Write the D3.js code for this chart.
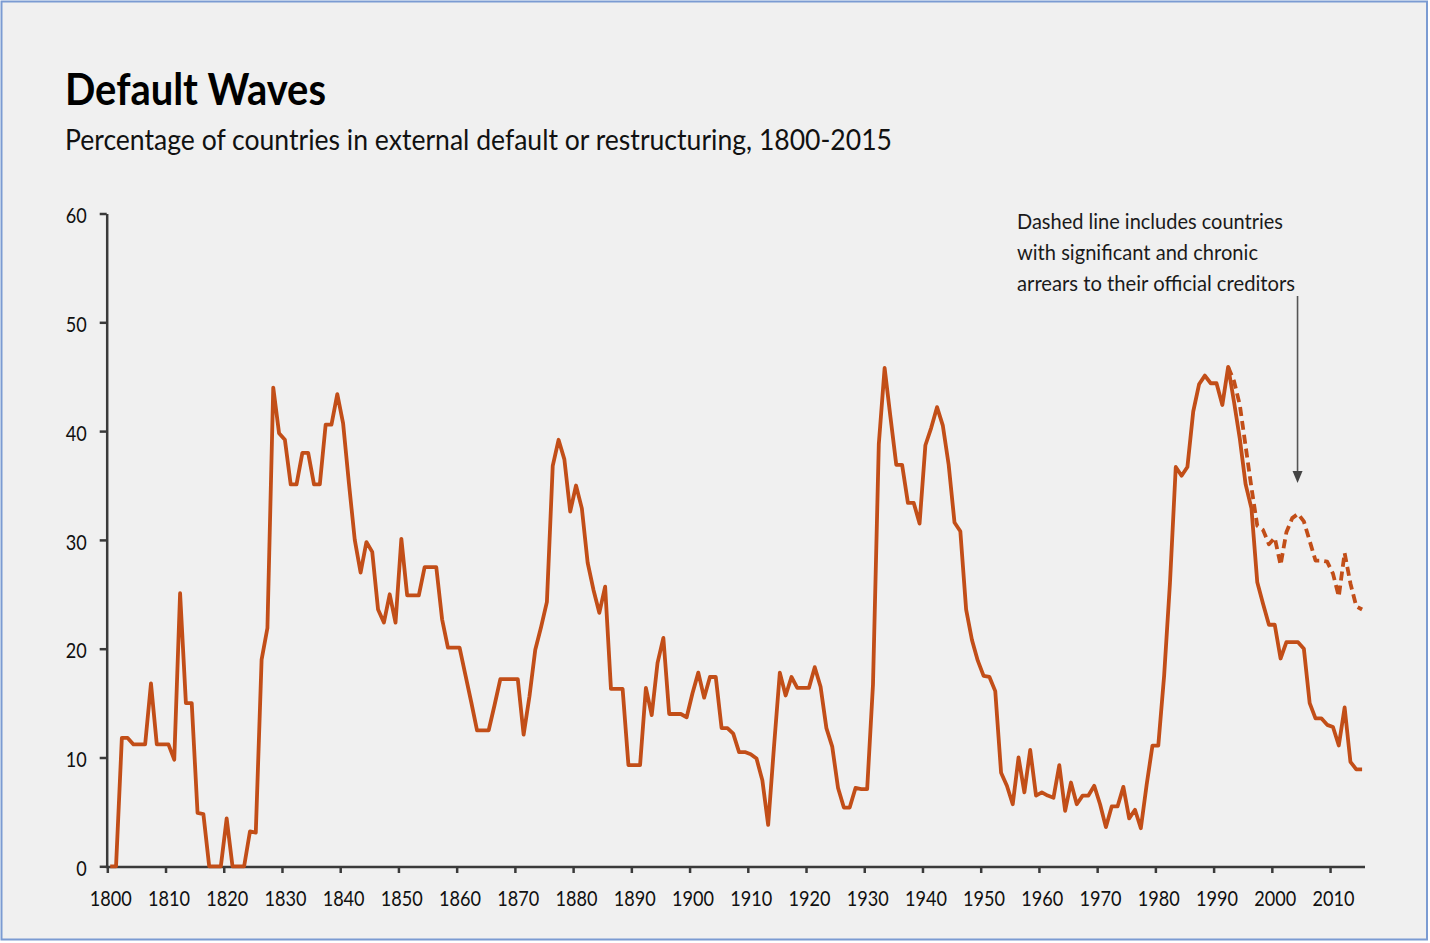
<!DOCTYPE html>
<html>
<head>
<meta charset="utf-8">
<script src="https://cdn.jsdelivr.net/npm/d3@7"></script>
<style>
  html, body { margin: 0; padding: 0; background: #ffffff; }
  svg { display: block; }
  text { font-family: Lato, "Open Sans", "Noto Sans", sans-serif; }
</style>
</head>
<body>
<svg id="chart" width="1430" height="943"></svg>
<script>
// ---------- DATA ----------
const title = "Default Waves";
const subtitle = "Percentage of countries in external default or restructuring, 1800-2015";
const noteLines = ["Dashed line includes countries", "with significant and chronic", "arrears to their official creditors"];

const startYear = 1800;
// Share of countries in external default or restructuring (%), one value per year 1800-2015
const defaultShare = [
  0, 0, 11.8, 11.8, 11.2, 11.2, 11.2, 16.8, 11.2, 11.2,          // 1800s
  11.2, 9.8, 25.1, 15.0, 15.0, 4.9, 4.8, 0, 0, 0,                // 1810s
  4.4, 0, 0, 0, 3.2, 3.1, 19.0, 21.9, 44.0, 39.8,                // 1820s
  39.2, 35.1, 35.1, 38.0, 38.0, 35.1, 35.1, 40.6, 40.6, 43.4,    // 1830s
  40.7, 35.2, 30.0, 27.0, 29.8, 28.9, 23.6, 22.4, 25.0, 22.4,    // 1840s
  30.1, 24.9, 24.9, 24.9, 27.5, 27.5, 27.5, 22.7, 20.1, 20.1,    // 1850s
  20.1, 17.6, 15.1, 12.5, 12.5, 12.5, 14.8, 17.2, 17.2, 17.2,    // 1860s
  17.2, 12.1, 15.6, 19.9, 22.0, 24.3, 36.8, 39.2, 37.4, 32.6,    // 1870s
  35.0, 32.9, 27.9, 25.4, 23.3, 25.7, 16.3, 16.3, 16.3, 9.3,     // 1880s
  9.3, 9.3, 16.4, 13.9, 18.7, 21.0, 14.0, 14.0, 14.0, 13.7,      // 1890s
  15.9, 17.8, 15.5, 17.4, 17.4, 12.7, 12.7, 12.2, 10.5, 10.5,    // 1900s
  10.3, 9.9, 7.9, 3.8, 11.0, 17.8, 15.7, 17.4, 16.4, 16.4,       // 1910s
  16.4, 18.3, 16.5, 12.7, 11.0, 7.2, 5.4, 5.4, 7.2, 7.1,         // 1920s
  7.1, 16.7, 38.8, 45.8, 41.3, 36.9, 36.9, 33.4, 33.4, 31.5,     // 1930s
  38.7, 40.3, 42.2, 40.5, 36.9, 31.6, 30.8, 23.6, 20.8, 18.9,    // 1940s
  17.5, 17.4, 16.1, 8.6, 7.4, 5.7, 10.0, 6.8, 10.7, 6.5,         // 1950s
  6.8, 6.5, 6.3, 9.3, 5.1, 7.7, 5.7, 6.5, 6.5, 7.4,              // 1960s
  5.7, 3.6, 5.5, 5.5, 7.3, 4.4, 5.2, 3.5, 7.5, 11.1,             // 1970s
  11.1, 17.5, 26.0, 36.7, 35.9, 36.7, 41.8, 44.3, 45.1, 44.4,    // 1980s
  44.4, 42.4, 45.9, 42.7, 39.3, 35.1, 32.9, 26.1, 24.1, 22.2,    // 1990s
  22.2, 19.1, 20.6, 20.6, 20.6, 20.0, 15.0, 13.6, 13.6, 13.0,    // 2000s
  12.8, 11.1, 14.6, 9.6, 8.9, 8.9                                // 2010-2015
];

// Including countries with significant and chronic arrears to official creditors, 1992-2015
const arrearsStartYear = 1992;
const withArrearsShare = [
  45.9, 44.6, 42.4, 38.6, 34.8, 31.3, 30.9, 29.6,                // 1992-1999
  30.2, 27.7, 30.7, 32.0, 32.4, 31.7, 29.9, 28.1, 28.1, 28.0,    // 2000-2009
  26.9, 24.8, 28.8, 26.0, 23.9, 23.6                             // 2010-2015
];

const yTicks = [0, 10, 20, 30, 40, 50, 60];
const xTickYears = [1800, 1810, 1820, 1830, 1840, 1850, 1860, 1870, 1880, 1890, 1900,
                    1910, 1920, 1930, 1940, 1950, 1960, 1970, 1980, 1990, 2000, 2010];

// ---------- DRAW ----------
const svg = d3.select("#chart");
const lineColor = "#c24e18";
const axisColor = "#3a3a3a";

svg.append("rect").attr("x", 1.5).attr("y", 1.5).attr("width", 1425.5).attr("height", 938)
   .attr("fill", "#f0f0f0").attr("stroke", "#7b9bd2").attr("stroke-width", 2);

function fit(sel, w) {
  const node = sel.node();
  const len = node.getComputedTextLength();
  if (Math.abs(len - w) > 1) sel.attr("textLength", w).attr("lengthAdjust", "spacingAndGlyphs");
  return sel;
}

fit(svg.append("text").attr("x", 65).attr("y", 105).attr("font-size", 43).attr("font-weight", 700)
   .attr("fill", "#000").text(title), 261);
fit(svg.append("text").attr("x", 65).attr("y", 150).attr("font-size", 28)
   .attr("fill", "#111").text(subtitle), 827);

const x = d3.scaleLinear().domain([1800, 2016]).range([107.3, 1365]);
const y = d3.scaleLinear().domain([0, 60]).range([866.3, 213.5]);

// Y axis
const yAxis = svg.append("g").attr("transform", "translate(106.7,0)")
  .call(d3.axisLeft(y).tickValues(yTicks).tickSize(7).tickSizeOuter(0).tickPadding(13));
yAxis.select(".domain").attr("stroke", axisColor).attr("stroke-width", 2.5);
yAxis.selectAll(".tick line").attr("stroke", axisColor).attr("stroke-width", 2.5);
yAxis.selectAll(".tick text").attr("font-size", 22).attr("fill", "#111").attr("dy", "0.42em")
  .attr("font-family", "Lato, sans-serif")
  .each(function(d) { fit(d3.select(this), String(d).length * 10.5); });

// X axis
const xAxis = svg.append("g").attr("transform", "translate(0,867)")
  .call(d3.axisBottom(x).tickValues(xTickYears).tickSize(6).tickSizeOuter(0).tickFormat(d3.format("d")).tickPadding(17));
xAxis.select(".domain").attr("stroke", axisColor).attr("stroke-width", 2.5)
  .attr("d", `M${x(1800) - 1.5},0H${x(2016)}`);
xAxis.selectAll(".tick line").attr("stroke", axisColor).attr("stroke-width", 2.5);
xAxis.selectAll(".tick text").attr("font-size", 22).attr("fill", "#111")
  .attr("font-family", "Lato, sans-serif")
  .attr("x", x(1800.5) - x(1800))
  .each(function() { fit(d3.select(this), 42); });

// Lines
const mainData = defaultShare.map((v, i) => ({ year: startYear + i, v }));
const arrData = withArrearsShare.map((v, i) => ({ year: arrearsStartYear + i, v }));
const line = d3.line().x(d => x(d.year + 0.5)).y(d => y(d.v));

svg.append("path").datum(arrData).attr("d", line).attr("fill", "none")
  .attr("stroke", lineColor).attr("stroke-width", 3.8).attr("stroke-dasharray", "9,5")
  .attr("stroke-linejoin", "round");
svg.append("path").datum(mainData).attr("d", line).attr("fill", "none")
  .attr("stroke", lineColor).attr("stroke-width", 3.8).attr("stroke-linejoin", "round");

// Annotation
const note = svg.append("g");
const noteWidths = [266, 241, 278];
noteLines.forEach((t, i) => {
  fit(note.append("text").attr("x", 1017).attr("y", 229 + i * 31).attr("font-size", 21.5)
    .attr("fill", "#1a1a1a").text(t), noteWidths[i]);
});
const arrowX = x(2004.5) - 0.5;
svg.append("line").attr("x1", arrowX).attr("x2", arrowX).attr("y1", 296).attr("y2", 473)
  .attr("stroke", "#555").attr("stroke-width", 1.6);
svg.append("path").attr("d", `M${arrowX - 5},471L${arrowX + 5},471L${arrowX},483Z`).attr("fill", "#444");
</script>
</body>
</html>
